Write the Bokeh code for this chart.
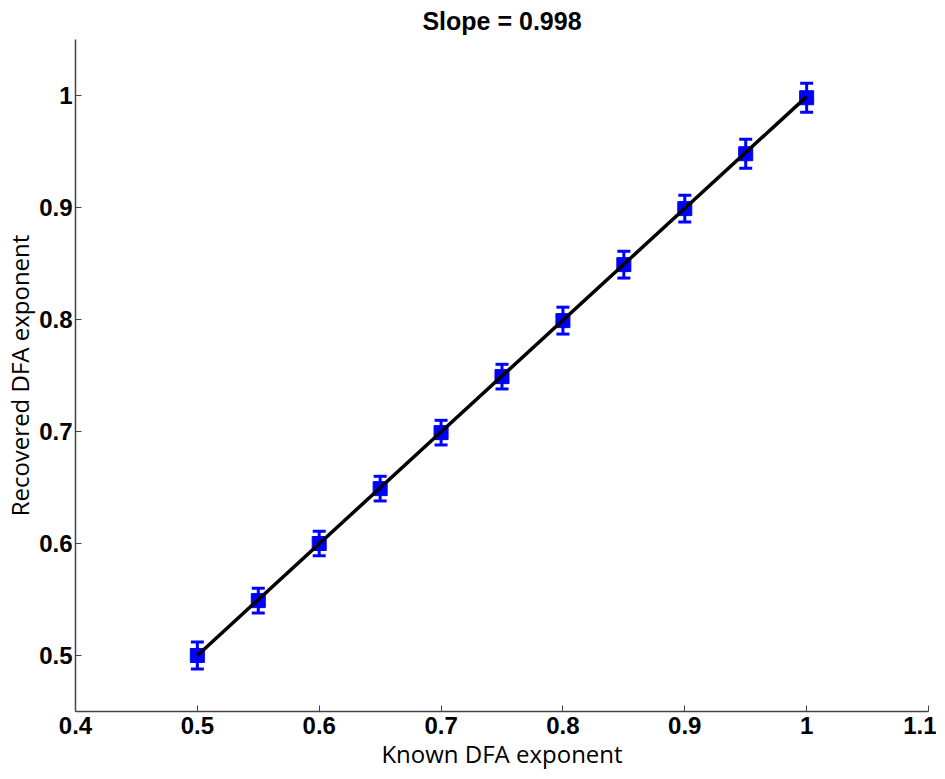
from bokeh.plotting import figure
from bokeh.models import ColumnDataSource, Whisker, TeeHead, FixedTicker, Range1d
from bokeh.embed import file_html
from bokeh.resources import INLINE

# ---- data ----
known = [0.5, 0.55, 0.6, 0.65, 0.7, 0.75, 0.8, 0.85, 0.9, 0.95, 1.0]
recovered = [0.500, 0.549, 0.600, 0.649, 0.699, 0.749, 0.799, 0.849, 0.899, 0.948, 0.998]
err = [0.012, 0.011, 0.011, 0.011, 0.011, 0.011, 0.012, 0.012, 0.012, 0.013, 0.013]
fit_x = [0.5, 1.0]
fit_y = [0.500, 0.999]
x_ticks = [0.4, 0.5, 0.6, 0.7, 0.8, 0.9, 1.0, 1.1]
y_ticks = [0.5, 0.6, 0.7, 0.8, 0.9, 1.0]
title_text = "Slope = 0.998"

lower = [r - e for r, e in zip(recovered, err)]
upper = [r + e for r, e in zip(recovered, err)]
src = ColumnDataSource(dict(x=known, y=recovered, lo=lower, hi=upper))

p = figure(frame_width=853, frame_height=672, output_backend="svg", toolbar_location=None,
           x_range=Range1d(0.4, 1.1), y_range=Range1d(0.45, 1.05),
           min_border_left=60, min_border_right=8, min_border_top=8, min_border_bottom=50,
           title=title_text)

p.title.align = "center"
p.title.text_font = "Liberation Sans"
p.title.text_font_size = "25px"
p.title.text_font_style = "bold"
p.title.text_color = "black"
p.title.standoff = 9

p.outline_line_color = None
p.grid.grid_line_color = None

for ax in (p.xaxis[0], p.yaxis[0]):
    ax.axis_line_color = "#444444"
    ax.axis_line_width = 1.5
    ax.major_tick_in = 6
    ax.major_tick_out = 0
    ax.major_tick_line_color = "#444444"
    ax.minor_tick_line_color = None
    ax.major_label_text_font = "Liberation Sans"
    ax.major_label_text_font_style = "bold"
    ax.major_label_text_font_size = "24px"
    ax.major_label_text_color = "black"
    ax.axis_label_text_font = "Open Sans"
    ax.axis_label_text_font_style = "normal"
    ax.axis_label_text_font_size = "24px"
    ax.axis_label_text_color = "black"

p.xaxis.ticker = FixedTicker(ticks=x_ticks)
p.yaxis.ticker = FixedTicker(ticks=y_ticks)
p.xaxis.major_label_overrides = {t: ("1" if t == 1.0 else f"{t:g}") for t in x_ticks}
p.yaxis.major_label_overrides = {t: ("1" if t == 1.0 else f"{t:g}") for t in y_ticks}
p.xaxis.axis_label = "Known DFA exponent"
p.yaxis.axis_label = "Recovered DFA exponent"
p.xaxis.major_label_standoff = 5
p.xaxis.axis_label_standoff = 0
p.yaxis.major_label_standoff = 3
p.yaxis.axis_label_standoff = 0

blue = "#0000ff"
w = Whisker(source=src, base="x", lower="lo", upper="hi",
            line_color=blue, line_width=3,
            upper_head=TeeHead(size=13, line_color=blue, line_width=3),
            lower_head=TeeHead(size=13, line_color=blue, line_width=3))
p.add_layout(w)

p.scatter("x", "y", source=src, marker="square", size=14, fill_color=blue, line_color=blue)

p.line(fit_x, fit_y, line_color="black", line_width=3.5)

open("out.html", "w").write(file_html(p, INLINE))
